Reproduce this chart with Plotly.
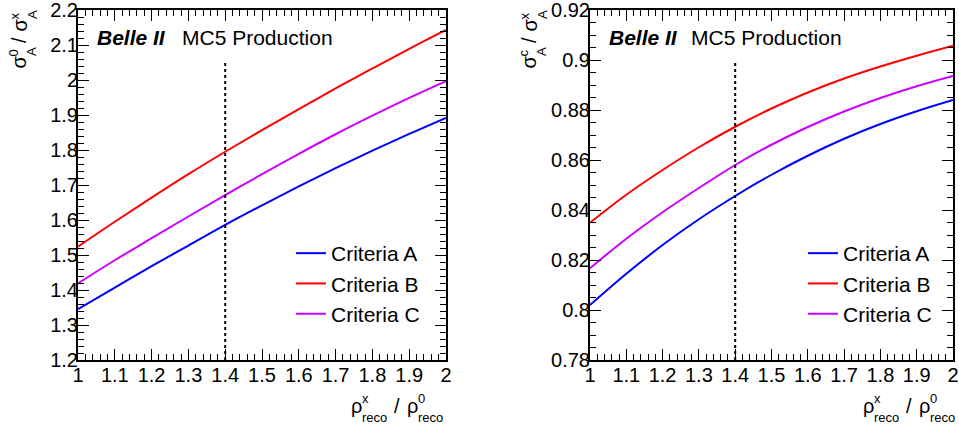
import plotly.graph_objects as go

# ---- data ----
ratio = [1.0, 1.1, 1.2, 1.3, 1.4, 1.5, 1.6, 1.7, 1.8, 1.9, 2.0]

left_A = [1.345, 1.407, 1.468, 1.527, 1.586, 1.642, 1.696, 1.748, 1.798, 1.846, 1.892]
left_B = [1.524, 1.595, 1.664, 1.731, 1.795, 1.857, 1.917, 1.976, 2.033, 2.089, 2.143]
left_C = [1.419, 1.485, 1.548, 1.610, 1.671, 1.731, 1.789, 1.845, 1.898, 1.949, 1.997]

right_A = [0.802, 0.8145, 0.826, 0.8363, 0.8456, 0.8541, 0.8617, 0.8685, 0.8744, 0.8795, 0.884]
right_B = [0.8349, 0.8461, 0.856, 0.8651, 0.8733, 0.8806, 0.887, 0.8926, 0.8974, 0.9017, 0.9057]
right_C = [0.8167, 0.8285, 0.8391, 0.8488, 0.858, 0.8661, 0.8732, 0.8794, 0.8848, 0.8895, 0.8936]

series_names = ["Criteria A", "Criteria B", "Criteria C"]
series_colors = ["#0000ff", "#ff0000", "#cc00ff"]

cut_value = 1.4
cut_top_left = 2.05
cut_top_right = 0.90

W, H = 959, 429
FONT = "Liberation Sans, Arial, Helvetica, sans-serif"

def px(x):
    return x / W

def py(y):
    # y pixel (from top) -> paper coordinate (plot area from y=10 to y=360)
    return (360 - y) / 350

fig = go.Figure()

for name, col, ys in zip(series_names, series_colors, [left_A, left_B, left_C]):
    fig.add_trace(go.Scatter(x=ratio, y=ys, mode="lines", name=name,
                             line=dict(color=col, width=2, shape="spline"),
                             xaxis="x", yaxis="y", legend="legend"))
for name, col, ys in zip(series_names, series_colors, [right_A, right_B, right_C]):
    fig.add_trace(go.Scatter(x=ratio, y=ys, mode="lines", name=name,
                             line=dict(color=col, width=2, shape="spline"),
                             xaxis="x2", yaxis="y2", legend="legend2"))

# dotted reference lines
fig.add_trace(go.Scatter(x=[cut_value, cut_value], y=[1.2, cut_top_left], mode="lines",
                         line=dict(color="black", width=2, dash="dot"),
                         showlegend=False, xaxis="x", yaxis="y", hoverinfo="skip"))
fig.add_trace(go.Scatter(x=[cut_value, cut_value], y=[0.78, cut_top_right], mode="lines",
                         line=dict(color="black", width=2, dash="dot"),
                         showlegend=False, xaxis="x2", yaxis="y2", hoverinfo="skip"))

axis_common = dict(
    showline=True, linecolor="black", linewidth=2, mirror="ticks",
    ticks="inside", ticklen=11, tickwidth=1, tickcolor="black",
    showgrid=False, zeroline=False, automargin=False, ticklabeloverflow="allow",
    tickfont=dict(family=FONT, size=20, color="black"),
)

fig.update_layout(
    width=W, height=H,
    margin=dict(l=0, r=0, t=10, b=69, autoexpand=False),
    paper_bgcolor="white", plot_bgcolor="white",
    font=dict(family=FONT, color="black"),
    xaxis=dict(domain=[px(78), px(446)], range=[1, 2], dtick=0.1, tick0=1,
               minor=dict(dtick=0.02, ticks="inside", ticklen=6, tickcolor="black"),
               anchor="y", ticklabelstandoff=-4, **axis_common),
    yaxis=dict(domain=[0, 1], range=[1.2, 2.2], dtick=0.1, tick0=1.2,
               minor=dict(dtick=0.02, ticks="inside", ticklen=6, tickcolor="black"),
               anchor="x", ticklabelstandoff=-6, **axis_common),
    xaxis2=dict(domain=[px(590), px(953)], range=[1, 2], dtick=0.1, tick0=1,
                minor=dict(dtick=0.02, ticks="inside", ticklen=6, tickcolor="black"),
                anchor="y2", ticklabelstandoff=-4, **axis_common),
    yaxis2=dict(domain=[0, 1], range=[0.78, 0.92], dtick=0.02, tick0=0.78,
                minor=dict(dtick=0.005, ticks="inside", ticklen=6, tickcolor="black"),
                anchor="x2", ticklabelstandoff=-6, **axis_common),
    legend=dict(x=px(291), y=py(233), xanchor="left", yanchor="top",
                bgcolor="rgba(0,0,0,0)", itemwidth=30,
                font=dict(family=FONT, size=21, color="black")),
    legend2=dict(x=px(803), y=py(233), xanchor="left", yanchor="top",
                 bgcolor="rgba(0,0,0,0)", itemwidth=30,
                 font=dict(family=FONT, size=21, color="black")),
)

ann = []

def text_at(txt, x, y, size, xanchor="left", yanchor="middle", angle=0):
    ann.append(dict(x=px(x), y=py(y), xref="paper", yref="paper",
                    xanchor=xanchor, yanchor=yanchor, text=txt, textangle=angle,
                    showarrow=False, borderpad=0,
                    font=dict(family=FONT, size=size, color="black")))

for bx, mx in [(96, 181), (608, 690)]:
    text_at("<b><i>Belle II</i></b>", bx, 37, 21)
    text_at("MC5 Production", mx, 37, 21)

# x-axis titles (stacked super/subscripts, ROOT-style)
MAIN, SCR = 20, 13
for dx in [0, 512]:
    text_at("ρ", 350 + dx, 406, MAIN)
    text_at("x", 361 + dx, 398.5, SCR)
    text_at("reco", 361 + dx, 417.5, SCR)
    text_at("/", 393 + dx, 406, MAIN)
    text_at("ρ", 406 + dx, 406, MAIN)
    text_at("0", 417 + dx, 398.5, SCR)
    text_at("reco", 417 + dx, 417.5, SCR)

# y-axis titles (rotated, stacked super/subscripts)
for dx, sup1 in [(0, "0"), (510, "c")]:
    text_at("σ", 19 + dx, 70, MAIN, "center", "bottom", -90)
    text_at(sup1, 13.5 + dx, 57.5, SCR, "center", "bottom", -90)
    text_at("A", 32 + dx, 57.5, SCR, "center", "bottom", -90)
    text_at("/", 19 + dx, 44, MAIN, "center", "bottom", -90)
    text_at("σ", 19 + dx, 33, MAIN, "center", "bottom", -90)
    text_at("x", 13.5 + dx, 20.5, SCR, "center", "bottom", -90)
    text_at("A", 32 + dx, 20.5, SCR, "center", "bottom", -90)

fig.update_layout(annotations=ann)

fig.write_html("out.html", config={"displayModeBar": False},
               post_script="document.body.style.margin='0';document.body.style.overflow='hidden';")
